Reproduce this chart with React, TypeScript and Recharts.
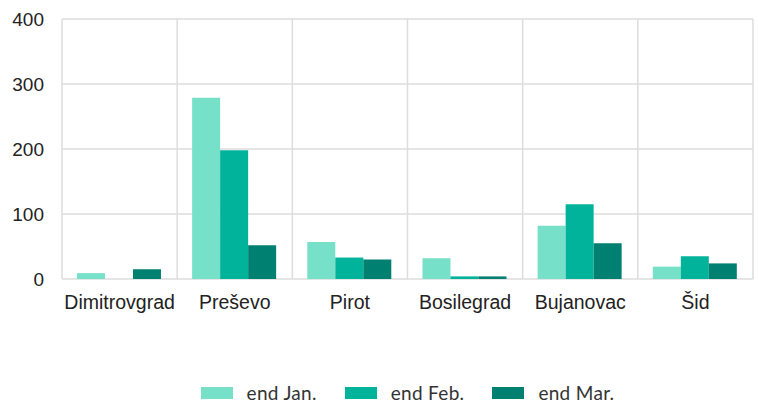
import { BarChart, Bar, XAxis, YAxis, CartesianGrid } from "recharts";

const crossings = ["Dimitrovgrad", "Preševo", "Pirot", "Bosilegrad", "Bujanovac", "Šid"];
const endJan = [9, 279, 57, 32, 82, 19];
const endFeb = [0, 198, 33, 4, 115, 35];
const endMar = [15, 52, 30, 4, 55, 24];
const yTicks = [0, 100, 200, 300, 400];

const SERIES = [
  { key: "jan", label: "end Jan.", color: "#76E0C8" },
  { key: "feb", label: "end Feb.", color: "#00B39A" },
  { key: "mar", label: "end Mar.", color: "#008070" },
];

const data = crossings.map((name, i) => ({
  name,
  jan: endJan[i],
  feb: endFeb[i],
  mar: endMar[i],
}));

const axisFont = "'Liberation Sans', Arial, sans-serif";

export default function App() {
  // grid lines sit between categories, not on the ticks
  const boundaryLines = ({ offset }: any) =>
    crossings
      .concat([""])
      .map((_, i) => offset.left + (i * offset.width) / crossings.length);

  return (
    <div style={{ position: "absolute", left: 0, top: 0, width: 758, height: 405, background: "#fff" }}>
      <BarChart
        width={758}
        height={405}
        data={data}
        margin={{ top: 19, right: 5, left: 0, bottom: 96 }}
        barGap={0}
        barCategoryGap="13%"
      >
        <CartesianGrid
          stroke="#dddddd"
          strokeWidth={1.5}
          verticalCoordinatesGenerator={boundaryLines}
        />
        <XAxis
          dataKey="name"
          height={30}
          axisLine={false}
          tickLine={false}
          tickSize={0}
          tickMargin={16}
          tick={{ fill: "#222", fontSize: 19.5, fontFamily: axisFont }}
          interval={0}
        />
        <YAxis
          width={62}
          domain={[0, 400]}
          ticks={yTicks}
          axisLine={false}
          tickLine={false}
          tickSize={0}
          tickMargin={18}
          tick={{ fill: "#222", fontSize: 19, fontFamily: axisFont }}
        />
        {SERIES.map((s) => (
          <Bar key={s.key} dataKey={s.key} fill={s.color} isAnimationActive={false} />
        ))}
      </BarChart>
      <div
        style={{
          position: "absolute",
          top: 381,
          left: 62,
          width: 691,
          display: "flex",
          justifyContent: "center",
          gap: 28,
          fontFamily: "Lato, sans-serif",
          fontSize: 19,
          letterSpacing: 0.3,
          color: "#333",
        }}
      >
        {SERIES.map((s) => (
          <div key={s.key} style={{ display: "flex", alignItems: "center", gap: 14 }}>
            <span style={{ display: "inline-block", width: 32, height: 12, background: s.color }} />
            <span>{s.label}</span>
          </div>
        ))}
      </div>
    </div>
  );
}
